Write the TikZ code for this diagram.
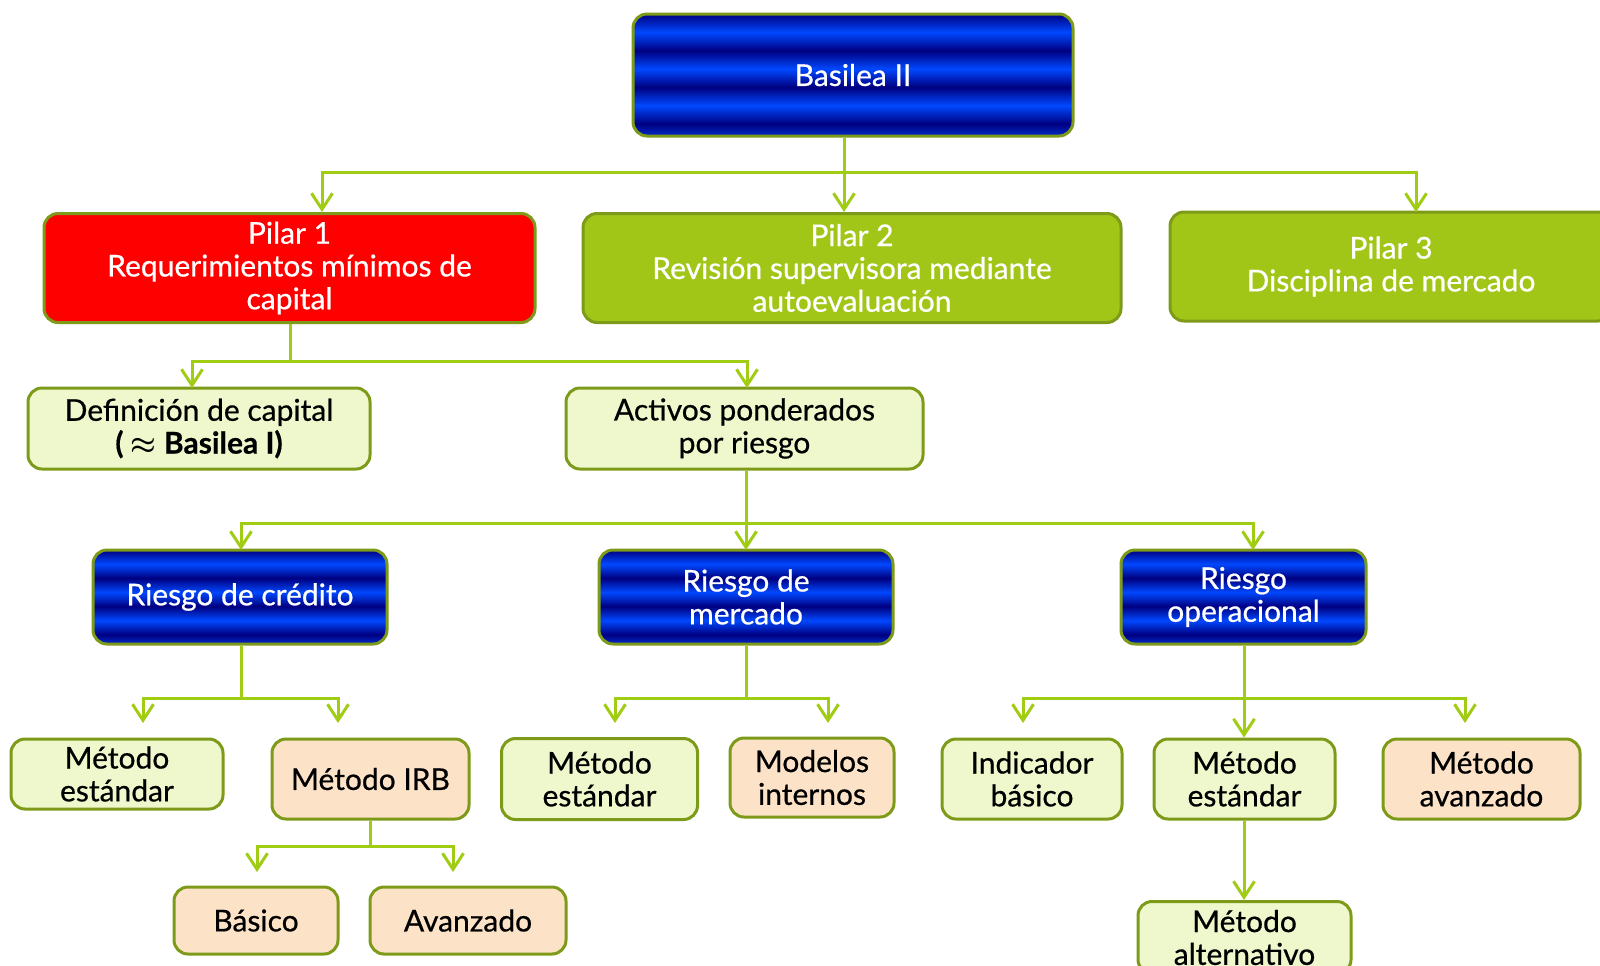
\documentclass[tikz,border=0pt]{standalone}
\usepackage{fontspec}
\setmainfont[RawFeature={embolden=0.6}]{Lato}
\usetikzlibrary{arrows.meta}
\definecolor{navyb}{RGB}{0,0,128}
\definecolor{brightb}{RGB}{0,72,255}
\definecolor{linegreen}{RGB}{160,204,20}
\definecolor{bordergreen}{RGB}{125,155,25}
\definecolor{pilargreen}{RGB}{162,198,23}
\definecolor{lightgreen}{RGB}{239,247,204}
\definecolor{peach}{RGB}{252,227,199}
\pgfdeclareverticalshading{bluestripes}{100bp}{color(0bp)=(brightb!60!navyb); color(25bp)=(brightb!60!navyb); color(30bp)=(navyb); color(37.5bp)=(brightb); color(45bp)=(navyb); color(52.5bp)=(brightb); color(60bp)=(navyb); color(67.5bp)=(brightb); color(75bp)=(navyb); color(100bp)=(navyb)}
\tikzset{
  box/.style={draw=bordergreen, line width=1.5pt, rounded corners=7pt, align=center,
    font=\fontsize{15}{16.4}\selectfont, inner sep=0pt},
  sz/.style 2 args={minimum width=#1*0.5pt, minimum height=#2*0.5pt},
  bluebox/.style={box, shading=bluestripes, text=white},
  redbox/.style={box, fill=red, text=white},
  greenbox/.style={box, fill=pilargreen, text=white},
  lightbox/.style={box, fill=lightgreen, text=black},
  peachbox/.style={box, fill=peach, text=black},
  arr/.style={draw=linegreen, line width=1.5pt, -{Straight Barb[length=8pt,width=10.5pt]}},
}
\begin{document}
\begin{tikzpicture}[x=0.5pt, y=-0.5pt]
\useasboundingbox (0,0) rectangle (1600,965);
\clip (0,0) rectangle (1600,965);
% nodes
\node[bluebox, sz={440}{122}] (basel) at (853,75) {Basilea II};
\node[redbox, sz={491}{109}] (p1) at (289.5,268) {Pilar 1\\Requerimientos mínimos de\\capital};
\node[greenbox, sz={538}{109}] (p2) at (852,268) {Pilar 2\\Revisión supervisora mediante\\autoevaluación};
\node[greenbox, sz={442}{109}] (p3) at (1391,266.5) {Pilar 3\\Disciplina de mercado};
\node[lightbox, sz={342}{81}] (def) at (199,428.5) {Definición de capital\\\textbf{( {\boldmath$\approx$} Basilea I)}};
\node[lightbox, sz={357}{81}] (act) at (744.5,428.5) {Activos ponderados\\por riesgo};
\node[bluebox, sz={294}{94}] (rc) at (240,597) {Riesgo de crédito};
\node[bluebox, sz={294}{94}] (rm) at (746,597) {Riesgo de\\mercado};
\node[bluebox, sz={245}{94}] (ro) at (1243.5,597) {Riesgo\\operacional};
\node[lightbox, sz={212}{70}] (me1) at (117,774) {Método\\estándar};
\node[peachbox, sz={197}{80}] (irb) at (370.5,779) {Método IRB};
\node[lightbox, sz={196}{81}] (me2) at (599.5,779) {Método\\estándar};
\node[peachbox, sz={164}{79}] (mi) at (812,777.5) {Modelos\\internos};
\node[lightbox, sz={180}{80}] (ib) at (1032,779) {Indicador\\básico};
\node[lightbox, sz={181}{80}] (me3) at (1244.5,779) {Método\\estándar};
\node[peachbox, sz={197}{80}] (ma) at (1481.5,779) {Método\\avanzado};
\node[lightbox, sz={213}{72}, anchor=north] (malt) at (1244.5,900) {Método\\alternativo};
\node[peachbox, sz={164}{67}] (bas) at (256,920.5) {Básico};
\node[peachbox, sz={196}{67}] (ava) at (468,920.5) {Avanzado};
% junction and target coordinates
\coordinate (j1) at (844,172);
\coordinate (t11) at (322,212);
\coordinate (t12) at (844,212);
\coordinate (t13) at (1416,212);
\coordinate (j2) at (290,361);
\coordinate (t21) at (192,388);
\coordinate (t22) at (747,388);
\coordinate (j3) at (746,523);
\coordinate (t31) at (241,550);
\coordinate (t32) at (746,550);
\coordinate (t33) at (1253,550);
\coordinate (j4) at (241,698);
\coordinate (t41) at (143,723);
\coordinate (t42) at (338,723);
\coordinate (j5) at (746,698);
\coordinate (t51) at (615,723);
\coordinate (t52) at (828,723);
\coordinate (j6) at (1244,698);
\coordinate (t61) at (1023,723);
\coordinate (t63) at (1465,723);
\coordinate (j7) at (370,846);
\coordinate (t71) at (257,872);
\coordinate (t72) at (453,872);
% connectors
\draw[arr] (basel.south -| j1) -- (j1) -| (t11);
\draw[arr] (basel.south -| j1) -- (t12);
\draw[arr] (j1) -| (t13);
\draw[arr] (p1.south -| j2) -- (j2) -| (t21);
\draw[arr] (j2) -| (t22);
\draw[arr] (act.south -| j3) -- (j3) -| (t31);
\draw[arr] (j3) -- (t32);
\draw[arr] (j3) -| (t33);
\draw[arr] (rc.south -| j4) -- (j4) -| (t41);
\draw[arr] (j4) -| (t42);
\draw[arr] (rm.south -| j5) -- (j5) -| (t51);
\draw[arr] (j5) -| (t52);
\draw[arr] (ro.south -| j6) -- (me3.north -| j6);
\draw[arr] (j6) -| (t61);
\draw[arr] (j6) -| (t63);
\draw[arr] (irb.south -| j7) -- (j7) -| (t71);
\draw[arr] (j7) -| (t72);
\draw[arr] (me3.south -| j6) -- (malt.north -| j6);
\end{tikzpicture}
\end{document}
